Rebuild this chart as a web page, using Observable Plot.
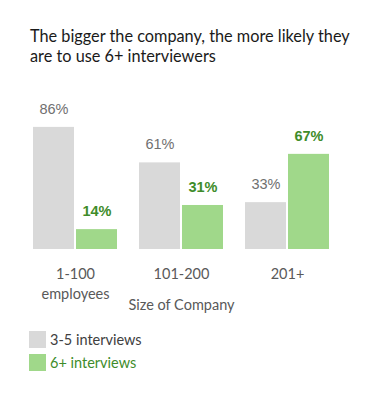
<!DOCTYPE html>
<html><head><meta charset="utf-8">
<script src="https://cdn.jsdelivr.net/npm/d3@7"></script>
<script src="https://cdn.jsdelivr.net/npm/@observablehq/plot@0.6"></script>
<style>
body{margin:0;background:#fff;font-family:Lato,sans-serif;}
#title{padding:26px 0 0 30px;height:46px;font-size:16.3px;line-height:20px;color:#1a1a1a;white-space:nowrap;}
#chart svg{display:block;}
#legend{margin:17px 0 0 29px;font-size:14.5px;}
.row{display:flex;align-items:center;height:17px;margin-bottom:6px;}
.sw{width:17px;height:17px;margin-right:4px;}
</style></head><body>
<div id="title">The bigger the company, the more likely they<br>are to use 6+ interviewers</div>
<div id="chart"></div>
<div id="legend"></div>
<script>
const categories = ["1-100\nemployees", "101-200", "201+"];
const series = ["3-5 interviews", "6+ interviews"];
const values35 = [86, 61, 33];
const values6 = [14, 31, 67];
const barColors = ["#d9d9d9", "#a0d88a"];
const labelColors = ["#707070", "#3e8c2a"];
const legendTextColors = ["#404040", "#3e8c2a"];
const axisLabel = "Size of Company";

const data = categories.flatMap((c, i) => [
  {company: c, series: series[0], value: values35[i]},
  {company: c, series: series[1], value: values6[i]}
]);

const chart = Plot.plot({
  width: 382, height: 242,
  marginLeft: 31, marginRight: 52, marginTop: 35, marginBottom: 65,
  style: {fontFamily: "Lato, sans-serif", background: "#fff"},
  fx: {domain: categories, paddingInner: 0.19, paddingOuter: 0},
  x: {domain: series, paddingInner: 0.045, paddingOuter: 0, axis: null},
  y: {domain: [0, 100], axis: null},
  color: {domain: series, range: barColors},
  marks: [
    Plot.barY(data, {fx: "company", x: "series", y: "value", fill: "series"}),
    Plot.text(data.filter(d => d.series === series[0]), {
      fx: "company", x: "series", y: "value", text: d => d.value + "%",
      dy: -18.5, fill: labelColors[0], fontSize: 14.5, fontFamily: "Liberation Sans, Arial, sans-serif"
    }),
    Plot.text(data.filter(d => d.series === series[1]), {
      fx: "company", x: "series", y: "value", text: d => d.value + "%",
      dy: -18.5, fill: labelColors[1], fontSize: 14.5, fontWeight: "bold", fontFamily: "Liberation Sans, Arial, sans-serif"
    }),
    Plot.axisFx({
      anchor: "bottom", tickSize: 0, tickPadding: 16, fontSize: 14.5, lineHeight: 1.35,
      fill: "#595959", label: axisLabel, labelAnchor: "center", labelOffset: 60
    })
  ]
});
document.getElementById("chart").appendChild(chart);

const legend = document.getElementById("legend");
series.forEach((s, i) => {
  const row = document.createElement("div");
  row.className = "row";
  const sw = document.createElement("div");
  sw.className = "sw";
  sw.style.background = chart.scale("color").apply(s);
  const t = document.createElement("span");
  t.textContent = s;
  t.style.color = legendTextColors[i];
  row.appendChild(sw); row.appendChild(t);
  legend.appendChild(row);
});
</script>
</body></html>
